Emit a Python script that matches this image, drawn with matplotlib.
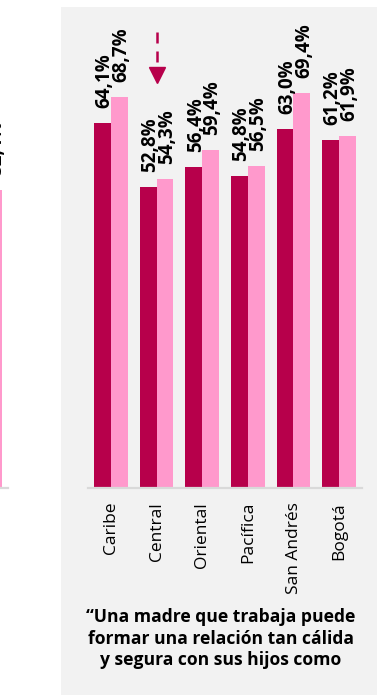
import matplotlib
matplotlib.use("Agg")
import matplotlib.pyplot as plt
from matplotlib.patches import Rectangle

# data
categories = ["Caribe", "Central", "Oriental", "Pacífica", "San Andrés", "Bogotá"]
serie_a = [64.1, 52.8, 56.4, 54.8, 63.0, 61.2]
serie_b = [68.7, 54.3, 59.4, 56.5, 69.4, 61.9]
# cut-off bar of the neighbouring panel on the left edge
frag_b = [52.4]
arrow_cat = "Central"
caption = ("\u201cUna madre que trabaja puede\n"
           "formar una relación tan cálida\n"
           "y segura con sus hijos como")

DARK = "#B7004B"
PINK = "#FF99CC"
W, H = 378, 695

plt.rcParams["font.family"] = ["Open Sans", "DejaVu Sans"]

fig = plt.figure(figsize=(W / 100, H / 100), dpi=100)
fig.patch.set_facecolor("white")
fig.patches.append(Rectangle((61 / W, 0), (377 - 61) / W, (695 - 7) / H,
                             transform=fig.transFigure, facecolor="#F2F2F2",
                             edgecolor="none", zorder=-5))

ymax = 84.5
bw = 0.37


def fmt(v):
    return f"{v:.1f}%".replace(".", ",")


def style(ax):
    ax.set_facecolor("none")
    for s in ["top", "right", "left"]:
        ax.spines[s].set_visible(False)
    ax.spines["bottom"].set_color("#D9D9D9")
    ax.spines["bottom"].set_linewidth(1.6)
    ax.set_yticks([])
    ax.set_ylim(0, ymax)
    ax.tick_params(axis="x", length=0)


def label(ax, x, v, dx=2):
    ax.annotate(fmt(v), (x, v), xytext=(dx, 15), textcoords="offset pixels",
                rotation=90, ha="center", va="bottom", fontsize=13.5,
                fontweight="bold", color="black")


# main panel
ax = fig.add_axes([88 / W, (H - 488) / H, (362 - 88) / W, (488 - 7) / H])
style(ax)
xs = list(range(len(categories)))
ax.bar([x - bw / 2 for x in xs], serie_a, width=bw, color=DARK, zorder=2)
ax.bar([x + bw / 2 for x in xs], serie_b, width=bw, color=PINK, zorder=2)
for x, a, b in zip(xs, serie_a, serie_b):
    label(ax, x - bw / 2, a)
    label(ax, x + bw / 2, b)
ax.set_xlim(-0.5, len(categories) - 0.5)
ax.set_xticks(xs)
ax.set_xticklabels(categories, rotation=90, fontsize=12.5, color="black")
ax.tick_params(axis="x", pad=10)
for t in ax.get_xticklabels():
    t.set_va("top")

# dashed arrow over the highlighted region
ai = categories.index(arrow_cat)
tr = ax.get_xaxis_transform()
ax.plot([ai, ai], [0.948, 0.886], transform=tr, color=DARK, lw=1.8,
        ls=(0, (4.4, 3.2)), solid_capstyle="butt", dash_capstyle="butt",
        clip_on=False)
ax.plot([ai], [0.858], transform=tr, marker="v", ms=11.5, color=DARK,
        mec=DARK, clip_on=False)

# fragment of the previous panel
ax0 = fig.add_axes([(8 - 45.7) / W, (H - 488) / H, 45.7 / W, (488 - 7) / H])
style(ax0)
ax0.set_xticks([])
ax0.set_xlim(-0.5, 0.5)
ax0.bar([bw / 2], frag_b, width=bw, color=PINK, zorder=2)
label(ax0, bw / 2, frag_b[0], dx=3)

fig.text(221 / W, 1 - 608 / H, caption, ha="center", va="top", fontsize=12.6,
         fontweight="bold", color="black", linespacing=1.25)

fig.savefig("out.png", dpi=100)
